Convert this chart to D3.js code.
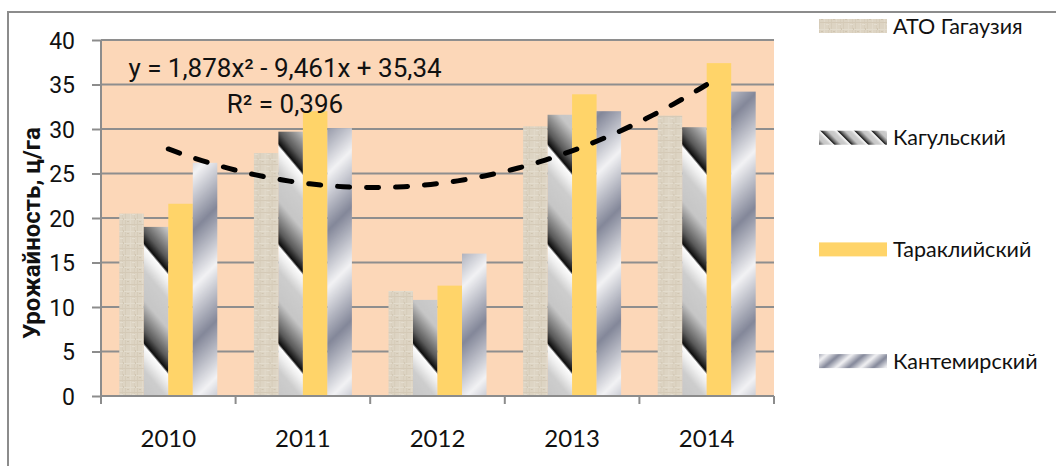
<!DOCTYPE html>
<html>
<head>
<meta charset="utf-8">
<script src="https://cdn.jsdelivr.net/npm/d3@7"></script>
<style>
  body { margin: 0; background: #fff; }
  svg { display: block; }
</style>
</head>
<body>
<div class="chart"></div>
<script>
var svgWidth = 1056;
var svgHeight = 466;

// data
var years = ["2010", "2011", "2012", "2013", "2014"];
var seriesNames = ["АТО Гагаузия", "Кагульский", "Тараклийский", "Кантемирский"];
var atoValues = [20.5, 27.3, 11.8, 30.3, 31.5];
var kagulValues = [19.0, 29.7, 10.8, 31.6, 30.2];
var tarakValues = [21.6, 32.0, 12.4, 33.9, 37.4];
var kantemirValues = [26.2, 30.1, 16.0, 32.0, 34.2];
var yTicks = [0, 5, 10, 15, 20, 25, 30, 35, 40];
// polynomial trendline y = a*x^2 + b*x + c (x = 1..5)
var trendCoef = [1.878, -9.461, 35.34];
var trendLabel = "y = 1,878x² - 9,461x + 35,34";
var r2Label = "R² = 0,396";
var yTitle = "Урожайность, ц/га";

var allValues = [atoValues, kagulValues, tarakValues, kantemirValues];

var plot = { left: 101, right: 774, top: 40, bottom: 396 };

var svg = d3.select(".chart")
  .append("svg")
  .attr("width", svgWidth)
  .attr("height", svgHeight);

var defs = svg.append("defs");

// burlap-like texture for ATO
var burlap = defs.append("pattern")
  .attr("id", "fill0")
  .attr("patternUnits", "userSpaceOnUse")
  .attr("width", 12).attr("height", 12);
burlap.append("rect").attr("width", 12).attr("height", 12).attr("fill", "#ddd4c3");
[[0, 0, 1, 12, "#d6ccb9"], [5, 0, 1, 12, "#e2dacb"], [9, 0, 1, 12, "#d8cebc"],
 [0, 3, 12, 1, "#e3dccd"], [0, 8, 12, 1, "#d5cab7"], [2, 5, 2, 1, "#d0c5b1"],
 [7, 10, 3, 1, "#e4ddcf"], [10, 2, 1, 2, "#d1c6b2"]].forEach(function(r) {
  burlap.append("rect").attr("x", r[0]).attr("y", r[1])
    .attr("width", r[2]).attr("height", r[3]).attr("fill", r[4]);
});

// chrome-like diagonal bands for Кагульский
var gK = defs.append("linearGradient").attr("id", "gradKagul")
  .attr("x1", 0).attr("y1", 0).attr("x2", 0).attr("y2", 1);
[[0, "#cdcdcd"], [0.3, "#c6c6c6"], [0.6, "#5a5a5a"], [0.74, "#050505"],
 [0.745, "#ffffff"], [0.85, "#eeeeee"], [1, "#cdcdcd"]].forEach(function(s) {
  gK.append("stop").attr("offset", s[0]).attr("stop-color", s[1]);
});
function stripePattern(id, grad, period, transform) {
  var p = defs.append("pattern")
    .attr("id", id)
    .attr("patternUnits", "userSpaceOnUse")
    .attr("width", 20).attr("height", period)
    .attr("patternTransform", transform);
  p.append("rect").attr("width", 20).attr("height", period).attr("fill", grad);
}
stripePattern("fill1", "url(#gradKagul)", 64, "translate(0,20) rotate(50)");
stripePattern("leg1", "url(#gradKagul)", 12, "translate(4,0) rotate(45)");

// smooth blue-grey bands for Кантемирский
var gC = defs.append("linearGradient").attr("id", "gradKant")
  .attr("x1", 0).attr("y1", 0).attr("x2", 0).attr("y2", 1);
[[0, "#f2f2f4"], [0.5, "#838799"], [1, "#f2f2f4"]].forEach(function(s) {
  gC.append("stop").attr("offset", s[0]).attr("stop-color", s[1]);
});
stripePattern("fill3", "url(#gradKant)", 80, "translate(0,40) rotate(-45)");
stripePattern("leg3", "url(#gradKant)", 16, "translate(0,0) rotate(-40)");

var fills = ["url(#fill0)", "url(#fill1)", "#ffd469", "url(#fill3)"];
var legendFills = ["url(#fill0)", "url(#leg1)", "#ffd469", "url(#leg3)"];

// outer frame
svg.append("rect")
  .attr("x", 8).attr("y", 12)
  .attr("width", 1080).attr("height", 500)
  .attr("fill", "#fff")
  .attr("stroke", "#8c8c8c")
  .attr("stroke-width", 2);

// plot background
svg.append("rect")
  .attr("x", plot.left).attr("y", plot.top)
  .attr("width", plot.right - plot.left).attr("height", plot.bottom - plot.top)
  .attr("fill", "#fcd7b8");

var x0 = d3.scaleBand().domain(years).range([plot.left, plot.right]);
var x1 = d3.scaleBand().domain(d3.range(4))
  .range([x0.bandwidth() * 0.136, x0.bandwidth() * 0.864]);
var y = d3.scaleLinear().domain([0, 40]).range([plot.bottom, plot.top]);

// gridlines
svg.append("g")
  .selectAll("line")
  .data(yTicks.slice(1))
  .enter()
  .append("line")
  .attr("x1", plot.left).attr("x2", plot.right)
  .attr("y1", d => y(d)).attr("y2", d => y(d))
  .attr("stroke", "#8e8e8e")
  .attr("stroke-width", 1.8);

// bars
var groups = svg.append("g")
  .selectAll("g")
  .data(years)
  .enter()
  .append("g")
  .attr("transform", d => `translate(${x0(d)},0)`);

groups.selectAll("rect")
  .data((d, i) => allValues.map((s, k) => ({ k: k, v: s[i] })))
  .enter()
  .append("rect")
  .attr("x", d => x1(d.k))
  .attr("y", d => y(d.v))
  .attr("width", x1.bandwidth())
  .attr("height", d => y(0) - y(d.v))
  .attr("fill", d => fills[d.k]);

// axes
var leftAxis = d3.axisLeft(y).tickValues(yTicks).tickSize(9).tickFormat(d3.format("d"));
var yAxisG = svg.append("g")
  .attr("transform", `translate(${plot.left},0)`)
  .call(leftAxis);
yAxisG.select(".domain").attr("stroke", "#8c8c8c").attr("stroke-width", 2)
  .attr("d", `M0,${plot.top}V${plot.bottom}`);
yAxisG.selectAll(".tick line").attr("stroke", "#8c8c8c").attr("stroke-width", 2);
yAxisG.selectAll(".tick text")
  .attr("x", -26)
  .attr("dy", "0.36em")
  .style("font-family", "Roboto, sans-serif")
  .style("font-size", "23px")
  .attr("fill", "#111");

var bottomAxis = d3.axisBottom(x0).tickSize(0).tickPadding(0);
var xAxisG = svg.append("g")
  .attr("transform", `translate(0,${plot.bottom})`)
  .call(bottomAxis);
xAxisG.select(".domain").attr("stroke", "#8c8c8c").attr("stroke-width", 2)
  .attr("d", `M${plot.left},0H${plot.right}`);
xAxisG.selectAll(".tick text")
  .attr("y", 51)
  .attr("dy", 0)
  .style("font-family", "Lato, sans-serif")
  .style("font-size", "24px")
  .attr("fill", "#111");

// category boundary ticks
svg.append("g")
  .selectAll("line")
  .data(years.map(d => x0(d)).concat([plot.right]))
  .enter()
  .append("line")
  .attr("x1", d => d).attr("x2", d => d)
  .attr("y1", plot.bottom).attr("y2", plot.bottom + 8)
  .attr("stroke", "#8c8c8c")
  .attr("stroke-width", 2);

// trendline
var trendX = d3.scaleLinear().domain([1, 5])
  .range([x0(years[0]) + x0.bandwidth() / 2, x0(years[4]) + x0.bandwidth() / 2]);
var trendPts = d3.range(1, 5.001, 0.05).map(t => [t, trendCoef[0] * t * t + trendCoef[1] * t + trendCoef[2]]);
svg.append("path")
  .datum(trendPts)
  .attr("fill", "none")
  .attr("stroke", "#000")
  .attr("stroke-width", 5)
  .attr("stroke-linecap", "round")
  .attr("stroke-dasharray", "12,17")
  .attr("d", d3.line().x(d => trendX(d[0])).y(d => y(d[1])));

// trendline label
var eq = svg.append("g")
  .style("font-family", "Roboto, sans-serif")
  .style("font-size", "26px")
  .attr("fill", "#111")
  .attr("text-anchor", "middle");
eq.append("text").attr("x", 285).attr("y", 77).text(trendLabel);
eq.append("text").attr("x", 285).attr("y", 113).text(r2Label);

// y axis title
svg.append("text")
  .attr("transform", "translate(40,233) rotate(-90)")
  .attr("text-anchor", "middle")
  .style("font-family", "Roboto, sans-serif")
  .style("font-size", "24px")
  .style("font-weight", "bold")
  .attr("fill", "#111")
  .text(yTitle);

// legend
var legend = svg.append("g")
  .selectAll("g")
  .data(seriesNames)
  .enter()
  .append("g")
  .attr("transform", (d, i) => `translate(819,${26 + i * 111.7})`);
legend.append("rect")
  .attr("x", 0).attr("y", -7)
  .attr("width", 68).attr("height", 14)
  .attr("fill", (d, i) => legendFills[i]);
legend.append("text")
  .attr("x", 74)
  .attr("dy", "0.35em")
  .style("font-family", "Lato, sans-serif")
  .style("font-size", "21.5px")
  .attr("fill", "#111")
  .text(d => d);
</script>
</body>
</html>
